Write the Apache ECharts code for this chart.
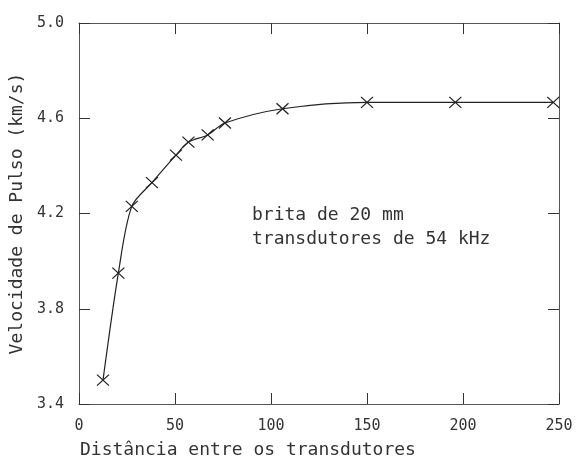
<!DOCTYPE html>
<html>
<head>
<meta charset="utf-8">
<script src="https://cdn.jsdelivr.net/npm/echarts@6/dist/echarts.min.js"></script>
<style>
  html, body { margin: 0; padding: 0; background: #fff; }
  #chart { width: 579px; height: 462px; }
</style>
</head>
<body>
<div id="chart"></div>
<script>
// distancia entre transdutores (mm) e velocidade de pulso (km/s)
var distancias = [12.5, 20.5, 27.5, 38, 50.5, 57, 67, 76, 106, 150, 196, 247];
var velocidades = [3.50, 3.95, 4.23, 4.33, 4.445, 4.50, 4.53, 4.58, 4.64, 4.667, 4.667, 4.667];
var xTicks = [0, 50, 100, 150, 200, 250];
var yTicks = ["3.4", "3.8", "4.2", "4.6", "5.0"];
var notas = ["brita de 20 mm", "transdutores de 54 kHz"];

var fonte = "DejaVu Sans Mono";
var cor = "#333";

var pontos = distancias.map(function (d, i) { return [d, velocidades[i]]; });

var chart = echarts.init(document.getElementById("chart"));

function eixoX(pos, mostraLabel) {
  return {
    type: "value",
    position: pos,
    min: xTicks[0],
    max: xTicks[xTicks.length - 1],
    interval: 50,
    splitLine: { show: false },
    axisLine: { show: true, onZero: false, lineStyle: { color: "#555", width: 1 } },
    axisTick: { show: true, inside: true, length: 11, lineStyle: { color: "#333" } },
    axisLabel: {
      show: mostraLabel,
      margin: 15,
      fontFamily: fonte,
      fontSize: 15,
      color: cor
    }
  };
}

function eixoY(pos, mostraLabel) {
  return {
    type: "value",
    position: pos,
    min: 3.4,
    max: 5.0,
    interval: 0.4,
    splitLine: { show: false },
    axisLine: { show: true, onZero: false, lineStyle: { color: "#555", width: 1 } },
    axisTick: { show: true, inside: true, length: 11, lineStyle: { color: "#333" } },
    axisLabel: {
      show: mostraLabel,
      margin: 15,
      fontFamily: fonte,
      fontSize: 15,
      color: cor,
      formatter: function (v) { return yTicks[Math.round((v - 3.4) / 0.4)]; }
    }
  };
}

var yEsq = eixoY("left", true);
yEsq.name = "Velocidade de Pulso (km/s)";
yEsq.nameLocation = "middle";
yEsq.nameGap = 47;
yEsq.nameTextStyle = { fontFamily: fonte, fontSize: 18, color: cor };

chart.setOption({
  animation: false,
  backgroundColor: "#fff",
  grid: { left: 78, top: 23, right: 20, bottom: 58 },
  xAxis: [eixoX("bottom", true), eixoX("top", false)],
  yAxis: [yEsq, eixoY("right", false)],
  graphic: [
    {
      type: "text",
      left: 80,
      top: 441,
      style: { text: "Distância entre os transdutores", fontFamily: fonte, fontSize: 18, fill: cor }
    },
    {
      type: "text",
      left: 252,
      top: 203,
      style: { text: notas.join("\n"), fontFamily: fonte, fontSize: 18, lineHeight: 24, fill: cor }
    }
  ],
  series: [
    {
      type: "line",
      data: pontos,
      smooth: 0.3,
      symbol: "path://M0,0L10,10M10,0L0,10",
      symbolSize: [12, 11],
      showSymbol: true,
      itemStyle: { color: "rgba(0,0,0,0)", borderColor: "#222", borderWidth: 1.2 },
      lineStyle: { color: "#222", width: 1.2 }
    }
  ]
});
</script>
</body>
</html>
